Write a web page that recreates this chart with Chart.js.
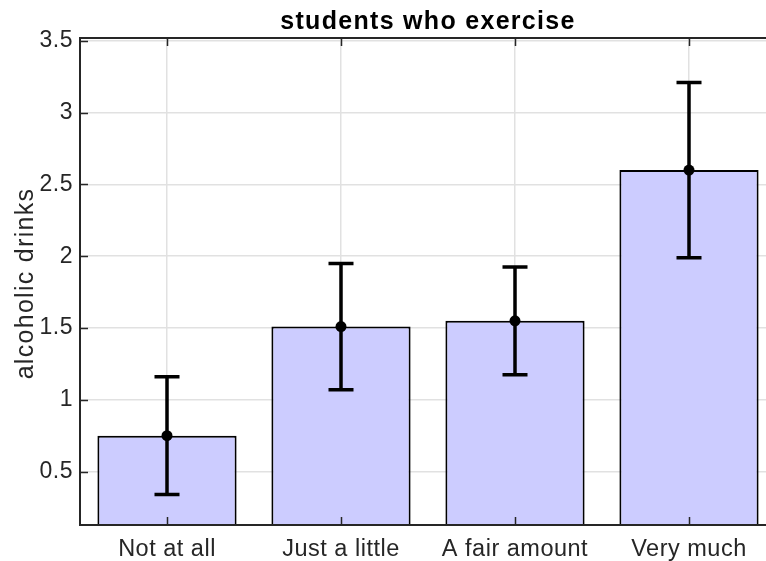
<!DOCTYPE html>
<html>
<head>
<meta charset="utf-8">
<script src="https://cdn.jsdelivr.net/npm/chart.js@4/dist/chart.umd.min.js"></script>
<style>
  html, body { margin: 0; padding: 0; background: #fff; overflow: hidden; }
  #wrap { width: 800px; height: 561px; }
</style>
</head>
<body>
<div id="wrap"><canvas id="c" width="800" height="561"></canvas></div>
<script>
// Exercise groups and mean number of alcoholic drinks, with error half-widths
const categories = ['Not at all', 'Just a little', 'A fair amount', 'Very much'];
const means = [0.75, 1.51, 1.55, 2.60];
const errors = [0.41, 0.44, 0.375, 0.61];
const yTicks = [0.5, 1, 1.5, 2, 2.5, 3, 3.5];
const yMin = 0.128;
const yMax = 3.52;
const titleText = 'students who exercise';
const yLabelText = 'alcoholic drinks';

const FONT = "'Liberation Sans', Arial, Helvetica, sans-serif";
const AXIS = '#262626';
const GRID = '#e1e1e1';

// Slightly open letter spacing for the tick labels
const spacing = {
  id: 'spacing',
  beforeDraw(chart) { chart.ctx.letterSpacing = '0.5px'; }
};

// Error bars with caps and a centre dot, positioned through the chart scales
const errorBars = {
  id: 'errorBars',
  afterDatasetsDraw(chart) {
    const { ctx, scales: { x, y } } = chart;
    ctx.save();
    ctx.strokeStyle = '#000';
    ctx.fillStyle = '#000';
    ctx.lineWidth = 3.5;
    ctx.lineCap = 'butt';
    means.forEach((m, i) => {
      const px = x.getPixelForValue(i + 1);
      const top = y.getPixelForValue(m + errors[i]);
      const bot = y.getPixelForValue(m - errors[i]);
      const cap = 12.5;
      ctx.beginPath();
      ctx.moveTo(px, top); ctx.lineTo(px, bot);
      ctx.moveTo(px - cap, top); ctx.lineTo(px + cap, top);
      ctx.moveTo(px - cap, bot); ctx.lineTo(px + cap, bot);
      ctx.stroke();
      ctx.beginPath();
      ctx.arc(px, y.getPixelForValue(m), 5.5, 0, Math.PI * 2);
      ctx.fill();
    });
    ctx.restore();
  }
};

// Boxed axes with inward tick marks, plus the title and the y-axis label
const boxAxes = {
  id: 'boxAxes',
  afterDraw(chart) {
    const { ctx, chartArea: a, scales: { x, y } } = chart;
    ctx.save();
    ctx.strokeStyle = AXIS;
    ctx.lineWidth = 2;
    ctx.beginPath();
    ctx.rect(a.left, a.top, a.right - a.left, a.bottom - a.top);
    ctx.stroke();
    const len = 8;
    ctx.lineWidth = 1.5;
    ctx.beginPath();
    yTicks.forEach(v => {
      const py = Math.round(y.getPixelForValue(v)) + 0.5;
      ctx.moveTo(a.left, py); ctx.lineTo(a.left + len, py);
      ctx.moveTo(a.right, py); ctx.lineTo(a.right - len, py);
    });
    categories.forEach((c, i) => {
      const px = Math.round(x.getPixelForValue(i + 1)) + 0.5;
      ctx.moveTo(px, a.bottom); ctx.lineTo(px, a.bottom - len);
      ctx.moveTo(px, a.top); ctx.lineTo(px, a.top + len);
    });
    ctx.stroke();

    ctx.textAlign = 'center';
    ctx.textBaseline = 'alphabetic';
    ctx.letterSpacing = '1.3px';
    ctx.fillStyle = '#000';
    ctx.font = 'bold 25px ' + FONT;
    ctx.fillText(titleText, (a.left + a.right) / 2, 29);

    ctx.fillStyle = AXIS;
    ctx.font = '25px ' + FONT;
    ctx.translate(33, (a.top + a.bottom) / 2 + 2);
    ctx.rotate(-Math.PI / 2);
    ctx.fillText(yLabelText, 0, 0);
    ctx.restore();
  }
};

new Chart(document.getElementById('c'), {
  type: 'bar',
  data: {
    datasets: [{
      data: categories.map((c, i) => ({ x: i + 1, y: means[i] })),
      backgroundColor: '#ccccff',
      borderColor: '#000',
      borderWidth: 2,
      borderSkipped: false,
      barPercentage: 0.8,
      categoryPercentage: 1,
      clip: 0
    }]
  },
  options: {
    responsive: false,
    animation: false,
    events: [],
    layout: { padding: { left: 0, right: 24, top: 38, bottom: 0 } },
    plugins: {
      legend: { display: false },
      tooltip: { enabled: false },
      title: { display: false }
    },
    scales: {
      x: {
        type: 'linear',
        min: 0.5,
        max: 4.5,
        offset: false,
        afterBuildTicks: s => { s.ticks = categories.map((c, i) => ({ value: i + 1 })); },
        afterFit: s => { s.height = 36; },
        ticks: {
          color: AXIS,
          font: { family: FONT, size: 23.5 },
          padding: 10,
          maxRotation: 0,
          autoSkip: false,
          callback: v => categories[v - 1]
        },
        grid: { color: GRID, lineWidth: 1.5, drawTicks: false, offset: false },
        border: { display: false }
      },
      y: {
        min: yMin,
        max: yMax,
        afterBuildTicks: s => { s.ticks = yTicks.map(v => ({ value: v })); },
        afterFit: s => { s.width = 80; },
        ticks: {
          color: AXIS,
          font: { family: FONT, size: 23 },
          padding: 7,
          callback: v => String(v)
        },
        grid: { color: GRID, lineWidth: 1.5, drawTicks: false },
        border: { display: false }
      }
    }
  },
  plugins: [spacing, errorBars, boxAxes]
});
</script>
</body>
</html>
